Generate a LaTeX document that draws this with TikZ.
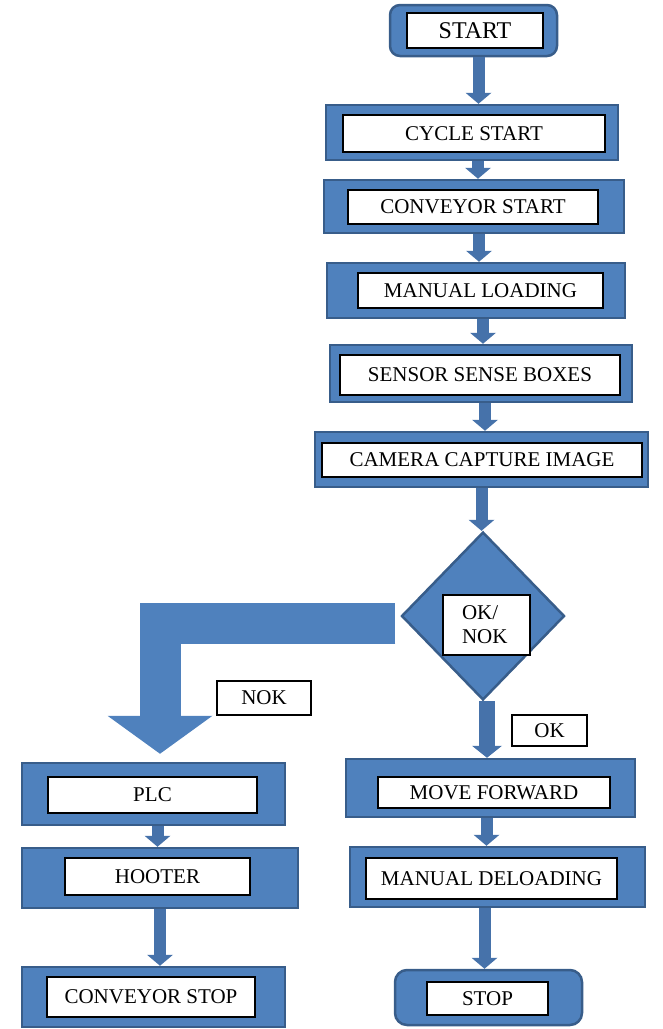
\documentclass[tikz,border=0pt]{standalone}
\usepackage{fontspec}
\setmainfont{Liberation Serif}
\usetikzlibrary{shapes.geometric,arrows.meta}
\definecolor{boxBlue}{RGB}{79,129,189}
\definecolor{edgeBlue}{RGB}{56,93,138}
\definecolor{flowBlue}{RGB}{70,114,170}

\begin{document}
\begin{tikzpicture}[x=1pt, y=-1pt, every node/.style={font=\fontsize{21}{24}\selectfont, inner sep=0pt},
  stepbox/.style={draw=edgeBlue, fill=boxBlue, line width=2.5pt},
  inbox/.style={draw=black, fill=white, line width=1.2pt},
  flow/.style={draw=flowBlue, line width=12pt, -{Triangle[length=11pt, width=26pt, line width=0pt]}},
  bigflow/.style={draw=boxBlue, line width=41pt, line join=miter, -{Triangle[length=38pt, width=105pt, line width=0pt]}}]
  \useasboundingbox (0,0) rectangle (662,1029);
  % Main column
  \node[stepbox, rounded corners=10pt, minimum width=167pt, minimum height=51pt] (start) at (473.5,30.5) {};
  \node[inbox, minimum width=136pt, minimum height=35pt, font=\fontsize{24}{26}\selectfont] (start-t) at (475,30.5) {START};
  \node[stepbox, minimum width=292pt, minimum height=55pt] (cycle) at (472,132.5) {};
  \node[inbox, minimum width=262pt, minimum height=37pt] (cycle-t) at (474,133.5) {CYCLE START};
  \node[stepbox, minimum width=300pt, minimum height=53pt] (conv) at (474,206.5) {};
  \node[inbox, minimum width=250pt, minimum height=34pt] (conv-t) at (473,207) {CONVEYOR START};
  \node[stepbox, minimum width=298pt, minimum height=55pt] (load) at (476,290.5) {};
  \node[inbox, minimum width=245pt, minimum height=35pt] (load-t) at (480.5,290.5) {MANUAL LOADING};
  \node[stepbox, minimum width=302pt, minimum height=57pt] (sense) at (481,373.5) {};
  \node[inbox, minimum width=280pt, minimum height=40pt] (sense-t) at (480,375) {SENSOR SENSE BOXES};
  \node[stepbox, minimum width=333pt, minimum height=55pt] (camera) at (481.5,459.5) {};
  \node[inbox, minimum width=320pt, minimum height=34pt] (camera-t) at (482,460) {CAMERA CAPTURE IMAGE};
  \node[stepbox, diamond, minimum width=163pt, minimum height=168pt] (decide) at (483,616) {};
  \node[inbox, minimum height=60pt, inner xsep=19pt, text width=49pt, align=left] (decide-t) at (486.5,625) {OK/\\NOK};
  % OK branch
  \node[stepbox, minimum width=289pt, minimum height=58pt] (move) at (490.5,788) {};
  \node[inbox, minimum width=232pt, minimum height=31pt] (move-t) at (494,792.5) {MOVE FORWARD};
  \node[stepbox, minimum width=295pt, minimum height=60pt] (unload) at (497.5,877) {};
  \node[inbox, minimum width=251pt, minimum height=41pt] (unload-t) at (491.5,878.5) {MANUAL DELOADING};
  \node[stepbox, rounded corners=12pt, minimum width=187pt, minimum height=55pt] (stop) at (488.5,997.5) {};
  \node[inbox, minimum width=121pt, minimum height=33pt] (stop-t) at (487.5,998.5) {STOP};
  % NOK branch
  \node[stepbox, minimum width=263pt, minimum height=62pt] (plc) at (153.5,794) {};
  \node[inbox, minimum width=209pt, minimum height=36pt] (plc-t) at (152.5,795) {PLC};
  \node[stepbox, minimum width=276pt, minimum height=60pt] (hooter) at (160,878) {};
  \node[inbox, minimum width=185pt, minimum height=37pt] (hooter-t) at (157.5,876.5) {HOOTER};
  \node[stepbox, minimum width=263pt, minimum height=60pt] (cstop) at (153.5,997) {};
  \node[inbox, minimum width=208pt, minimum height=40pt] (cstop-t) at (151,997) {CONVEYOR STOP};
  % Labels
  \node[inbox, minimum width=94pt, minimum height=34pt] (nok) at (264,698) {NOK};
  \node[inbox, minimum width=75pt, minimum height=31pt] (ok) at (549.5,730.5) {OK};
  % Arrows
  \draw[flow] ([xshift=5pt]start.south) -- ([xshift=5pt]start.south |- cycle.north);
  \draw[flow] ([xshift=6pt]cycle.south) -- ([xshift=6pt]cycle.south |- conv.north);
  \draw[flow] ([xshift=5pt]conv.south) -- ([xshift=5pt]conv.south |- load.north);
  \draw[flow] ([xshift=7pt]load.south) -- ([xshift=7pt]load.south |- sense.north);
  \draw[flow] ([xshift=4pt]sense.south) -- ([xshift=4pt]sense.south |- camera.north);
  \draw[flow] (camera.south) -- (camera.south |- decide.north);
  \draw[flow, line width=16pt, -{Triangle[length=12pt, width=30pt, line width=0pt]}]
    ([xshift=4pt]decide.south) -- ([xshift=4pt]decide.south |- move.north);
  \draw[flow] ([xshift=-4pt]move.south) -- ([xshift=-4pt]move.south |- unload.north);
  \draw[flow] ([xshift=-13pt]unload.south) -- ([xshift=-13pt]unload.south |- stop.north);
  \draw[flow] ([xshift=4pt]plc.south) -- ([xshift=4pt]plc.south |- hooter.north);
  \draw[flow] (hooter.south) -- (hooter.south |- cstop.north);
  % Bent NOK arrow
  \draw[bigflow, shorten <=5pt, shorten >=8pt] ([yshift=-7pt]decide.west) -| ([xshift=6.5pt]plc.north);
\end{tikzpicture}
\end{document}
